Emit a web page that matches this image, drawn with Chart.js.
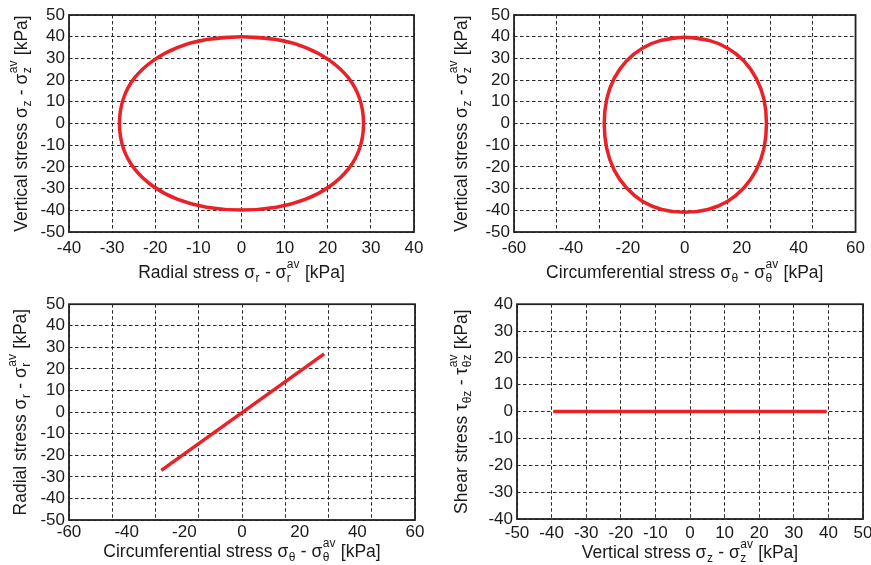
<!DOCTYPE html>
<html>
<head>
<meta charset="utf-8">
<script src="https://cdn.jsdelivr.net/npm/chart.js@4"></script>
<style>
  html, body { margin: 0; padding: 0; background: #fff; overflow: hidden; }
  .panel { position: absolute; }
</style>
</head>
<body>
<div class="panel" style="left:0;top:0;width:435px;height:290px"><canvas id="c1"></canvas></div>
<div class="panel" style="left:440px;top:0;width:431px;height:290px"><canvas id="c2"></canvas></div>
<div class="panel" style="left:0;top:290px;width:435px;height:275px"><canvas id="c3"></canvas></div>
<div class="panel" style="left:440px;top:290px;width:451px;height:275px"><canvas id="c4"></canvas></div>
<script>
// ---- data (kPa), closed loops traced clockwise, first two points repeated at the end ----
// top left: radial vs vertical
const p1Radial   = [-8.1, 0, 8.1, 14.9, 20.5, 24.8, 27.4, 28.3, 27.4, 24.8, 20.5, 14.9, 8.1, 0,
                    -8.1, -14.9, -20.5, -24.8, -27.4, -28.3, -27.4, -24.8, -20.5, -14.9, -8.1, 0, 8.1];
const p1Vertical = [38.7, 40, 38.7, 35.0, 29.0, 21.0, 11.4, 0, -11.4, -20.9, -28.9, -34.9, -38.6, -39.9,
                    -38.6, -34.9, -28.9, -20.9, -11.4, 0, 11.4, 21.0, 29.0, 35.0, 38.7, 40, 38.7];
// top right: circumferential vs vertical
const p2Circ     = [-8.1, 0, 8.2, 15.1, 20.8, 25.1, 27.8, 28.7, 27.8, 25.1, 20.8, 15.1, 8.2, 0,
                    -8.1, -14.9, -20.5, -24.8, -27.4, -28.3, -27.4, -24.8, -20.5, -14.9, -8.1, 0, 8.2];
const p2Vertical = [38.4, 39.7, 38.4, 34.7, 28.8, 20.8, 11.3, 0, -11.6, -21.5, -29.6, -35.8, -39.6, -40.9,
                    -39.6, -35.8, -29.6, -21.5, -11.6, 0, 11.3, 20.8, 28.8, 34.7, 38.4, 39.7, 38.4];
// bottom left: circumferential vs radial
const p3Circ   = [-28, 28.5];
const p3Radial = [-27, 27];
// bottom right: vertical vs shear
const p4Vertical = [-39.5, 39.5];
const p4Shear    = [0, 0];

// ---- ticks ----
const ticks40 = [-40, -30, -20, -10, 0, 10, 20, 30, 40];
const ticks50 = [-50, -40, -30, -20, -10, 0, 10, 20, 30, 40, 50];
const ticks60 = [-60, -40, -20, 0, 20, 40, 60];
const grid60  = [-60, -45, -30, -15, 0, 15, 30, 45, 60];

// ---- axis titles (sub / superscript parts) ----
const titleRadial   = [{t: 'Radial stress σ'}, {sub: 'r'}, {t: ' - σ'}, {sub: 'r', sup: 'av'}, {t: ' [kPa]'}];
const titleVertical = [{t: 'Vertical stress σ'}, {sub: 'z'}, {t: ' - σ'}, {sub: 'z', sup: 'av'}, {t: ' [kPa]'}];
const titleCirc     = [{t: 'Circumferential stress σ'}, {sub: 'θ'}, {t: ' - σ'}, {sub: 'θ', sup: 'av'}, {t: ' [kPa]'}];
const titleShear    = [{t: 'Shear stress τ'}, {sub: 'θz'}, {t: ' - τ'}, {sub: 'θz', sup: 'av'}, {t: ' [kPa]'}];

const FAMILY = '"Liberation Sans", Arial, Helvetica, sans-serif';
const MAIN_FONT = '17.5px ' + FAMILY;
const SMALL_FONT = '12px ' + FAMILY;
const TEXT = '#1a1a1a';
const RED = '#ea2127';
const GRID = '#2a2a2a';

function drawRich(ctx, segs, cx, y) {
  const widths = segs.map(s => {
    if (s.t) { ctx.font = MAIN_FONT; return ctx.measureText(s.t).width; }
    ctx.font = SMALL_FONT;
    return Math.max(ctx.measureText(s.sub || '').width, ctx.measureText(s.sup || '').width) + 1;
  });
  const total = widths.reduce((a, b) => a + b, 0);
  let x = cx - total / 2;
  segs.forEach((s, i) => {
    if (s.t) {
      ctx.font = MAIN_FONT;
      ctx.fillText(s.t, x, y);
    } else {
      ctx.font = SMALL_FONT;
      if (s.sub) ctx.fillText(s.sub, x + 0.5, y + 3.5);
      if (s.sup) ctx.fillText(s.sup, x + 0.5, y - 10.5);
    }
    x += widths[i];
  });
}

// axis titles + box frame
const frameAndTitles = {
  id: 'frameAndTitles',
  afterDatasetsDraw(chart) {
    const {ctx, chartArea: a} = chart;
    ctx.save();
    ctx.strokeStyle = '#222';
    ctx.lineWidth = 1.8;
    ctx.strokeRect(a.left, a.top, a.right - a.left, a.bottom - a.top);
    ctx.restore();
  },
  afterDraw(chart, args, opts) {
    const {ctx, chartArea: a} = chart;
    ctx.save();
    ctx.fillStyle = TEXT;
    ctx.textAlign = 'left';
    ctx.textBaseline = 'alphabetic';
    drawRich(ctx, opts.x, (a.left + a.right) / 2, opts.xBase);
    ctx.translate(opts.yBase, (a.top + a.bottom) / 2);
    ctx.rotate(-Math.PI / 2);
    drawRich(ctx, opts.y, 0, 0);
    ctx.restore();
  }
};

function setTicks(list) {
  return scale => { scale.ticks = list.map(v => ({value: v})); };
}

function makeChart(id, c) {
  const tickFont = {family: FAMILY, size: 17};
  const scales = {
    x: {
      type: 'linear', min: c.xTicks[0], max: c.xTicks[c.xTicks.length - 1],
      afterBuildTicks: setTicks(c.xTicks),
      afterFit: s => { s.height = c.xHeight; },
      grid: {display: !c.xGrid, color: GRID, lineWidth: 1, drawTicks: false},
      border: {display: false, dash: [3.5, 2.5]},
      ticks: {font: tickFont, color: TEXT, padding: c.xTickPad, autoSkip: false, maxRotation: 0}
    },
    y: {
      type: 'linear', min: c.yTicks[0], max: c.yTicks[c.yTicks.length - 1],
      afterBuildTicks: setTicks(c.yTicks),
      afterFit: s => { s.width = c.yWidth; },
      grid: {color: GRID, lineWidth: 1, drawTicks: false},
      border: {display: false, dash: [3.5, 2.5]},
      ticks: {font: tickFont, color: TEXT, padding: 4, autoSkip: false}
    }
  };
  if (c.xGrid) {
    // grid lines sit on a different step than the labels
    scales.x2 = {
      type: 'linear', position: 'bottom', min: c.xGrid[0], max: c.xGrid[c.xGrid.length - 1],
      afterBuildTicks: setTicks(c.xGrid),
      afterFit: s => { s.height = 0; },
      grid: {color: GRID, lineWidth: 1, drawTicks: false},
      border: {display: false, dash: [3.5, 2.5]},
      ticks: {display: false}
    };
  }
  return new Chart(document.getElementById(id), {
    type: 'scatter',
    data: {
      datasets: [{
        data: c.xs.map((x, i) => ({x: x, y: c.ys[i]})),
        showLine: true,
        borderColor: RED,
        borderWidth: 3.5,
        pointRadius: 0,
        tension: c.tension || 0,
        borderCapStyle: 'butt'
      }]
    },
    options: {
      responsive: true,
      maintainAspectRatio: false,
      animation: false,
      layout: {padding: {top: c.top, right: c.right, bottom: 0, left: 0}},
      plugins: {
        legend: {display: false},
        tooltip: {enabled: false},
        frameAndTitles: {x: c.xTitle, y: c.yTitle, xBase: c.xBase, yBase: c.yBase}
      },
      scales: scales
    },
    plugins: [frameAndTitles]
  });
}

makeChart('c1', {
  xs: p1Radial, ys: p1Vertical, tension: 0.34,
  xTicks: ticks40, yTicks: ticks50,
  top: 15, right: 21, yWidth: 69, xHeight: 58, xTickPad: 6,
  xTitle: titleRadial, yTitle: titleVertical, xBase: 278, yBase: 27
});

makeChart('c2', {
  xs: p2Circ, ys: p2Vertical, tension: 0.34,
  xTicks: ticks60, xGrid: grid60, yTicks: ticks50,
  top: 15, right: 12, yWidth: 74, xHeight: 58, xTickPad: 6,
  xTitle: titleCirc, yTitle: titleVertical, xBase: 278, yBase: 27
});

makeChart('c3', {
  xs: p3Circ, ys: p3Radial,
  xTicks: ticks60, xGrid: grid60, yTicks: ticks50,
  top: 13, right: 20, yWidth: 69, xHeight: 45, xTickPad: 2,
  xTitle: titleCirc, yTitle: titleRadial, xBase: 267, yBase: 26
});

makeChart('c4', {
  xs: p4Vertical, ys: p4Shear,
  xTicks: ticks50, yTicks: ticks40,
  top: 13, right: 28, yWidth: 77, xHeight: 46, xTickPad: 4,
  xTitle: titleVertical, yTitle: titleShear, xBase: 268, yBase: 27
});
</script>
</body>
</html>
